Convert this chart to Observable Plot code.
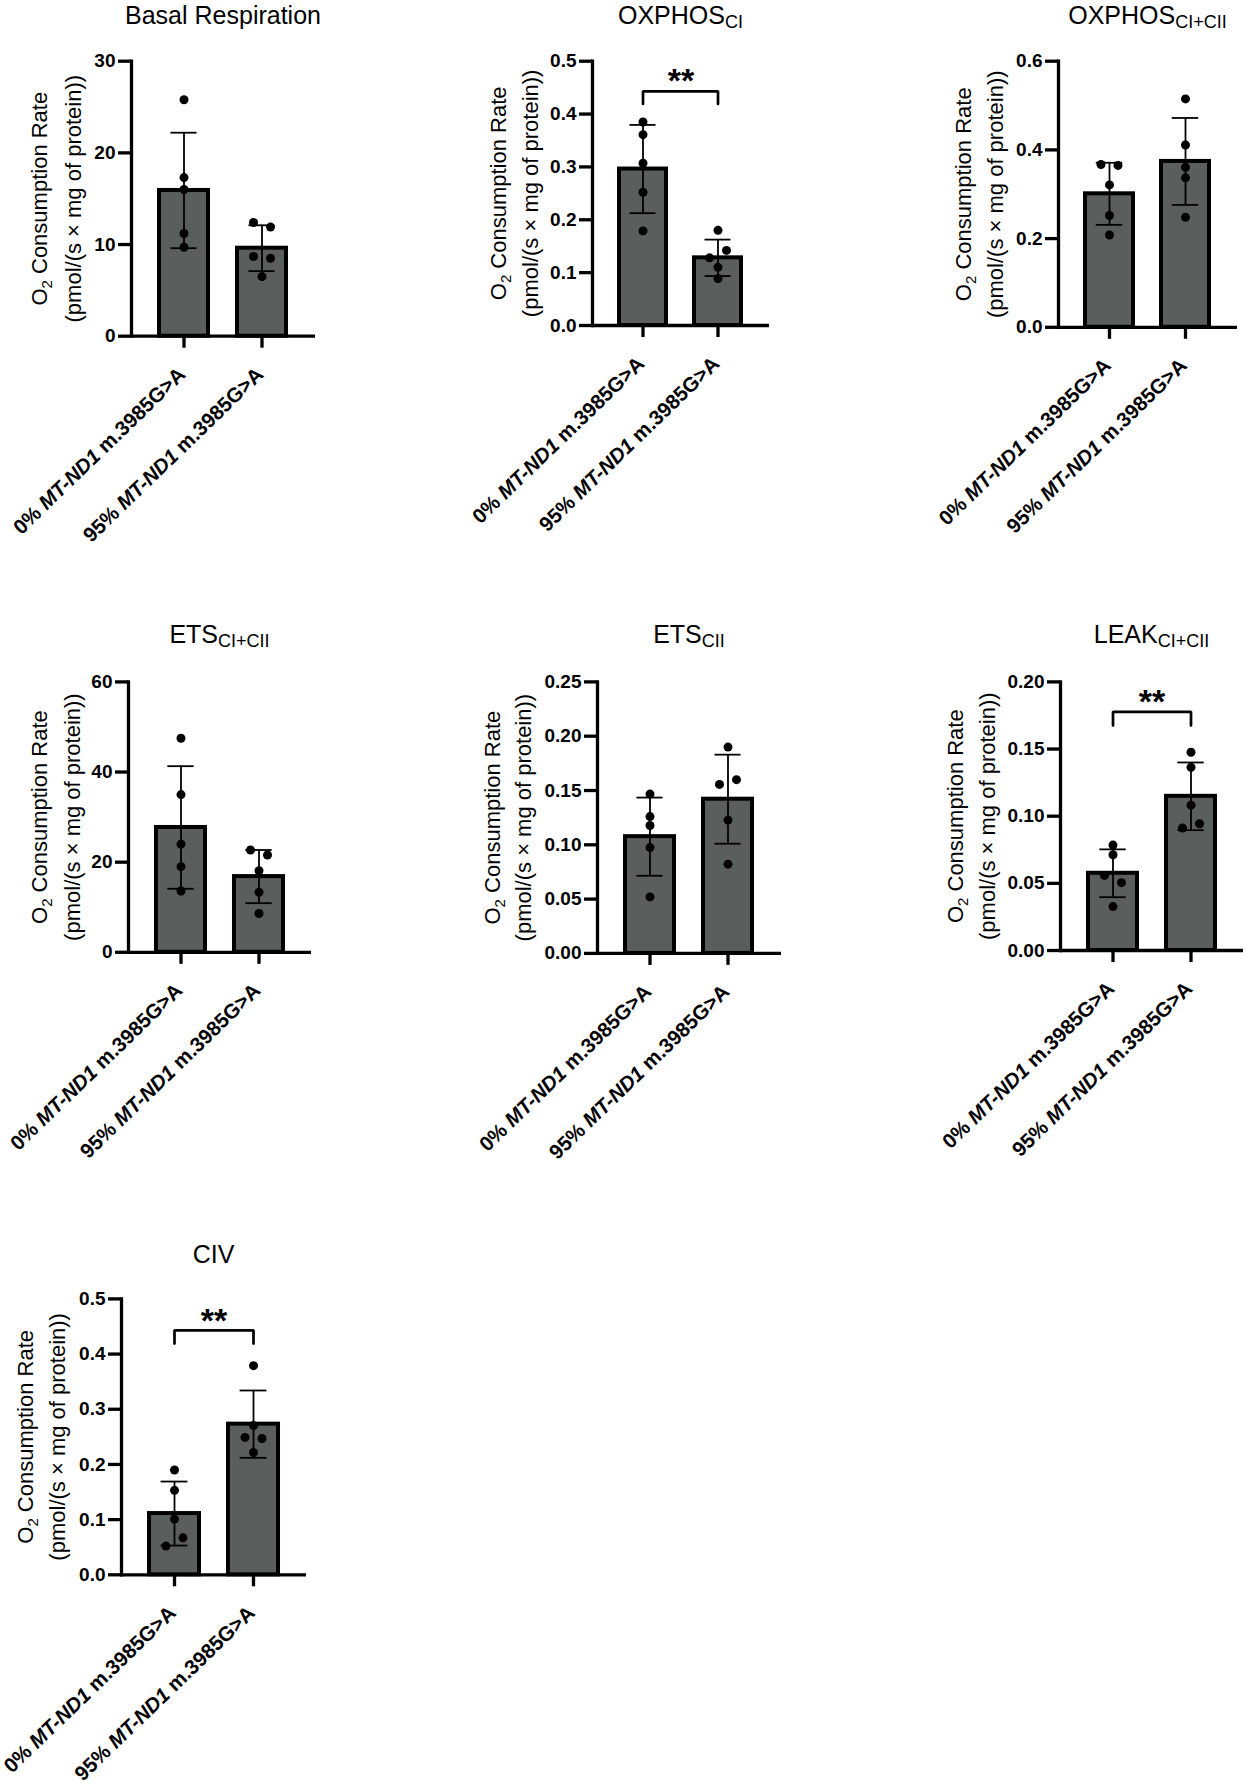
<!DOCTYPE html>
<html>
<head>
<meta charset="utf-8">
<script src="https://cdn.jsdelivr.net/npm/d3@7"></script>
<script src="https://cdn.jsdelivr.net/npm/@observablehq/plot@0.6"></script>
<style>
  body { margin: 0; background: #fff; }
  #root { position: relative; width: 1248px; height: 1784px; overflow: hidden;
          font-family: "Liberation Sans", Arial, Helvetica, sans-serif; }
  .title { position: absolute; width: 400px; text-align: center; font-size: 25px; line-height: 25px;
           color: #000; white-space: nowrap; z-index: 2; }
  .title .sub { font-size: 0.72em; position: relative; top: 0.22em; }
</style>
</head>
<body>
<div id="root"></div>
<script>
// ---------------- DATA ----------------
const groups = ["0% MT-ND1 m.3985G>A", "95% MT-ND1 m.3985G>A"];

const titleMain = ["Basal Respiration", "OXPHOS", "OXPHOS", "ETS", "ETS", "LEAK", "CIV"];
const titleSub  = ["", "CI", "CI+CII", "CI+CII", "CII", "CI+CII", ""];
const yLabelLine1 = "O2 Consumption Rate";
const yLabelLine2 = "(pmol/(s \u00d7 mg of protein))";
const sigText = "**";

// Basal Respiration
const basalTicks = [0, 10, 20, 30];
const basalTickLabels = ["0", "10", "20", "30"];
const basalMean = [15.9, 9.6];
const basalSD = [6.3, 2.5];
const basal0 = [25.8, 17.3, 16.0, 11.2, 9.7];
const basal1 = [12.4, 11.9, 8.7, 8.5, 6.5];

// OXPHOS CI
const oxCITicks = [0, 0.1, 0.2, 0.3, 0.4, 0.5];
const oxCITickLabels = ["0.0", "0.1", "0.2", "0.3", "0.4", "0.5"];
const oxCIMean = [0.296, 0.128];
const oxCISD = [0.0835, 0.0345];
const oxCI0 = [0.385, 0.361, 0.307, 0.252, 0.179];
const oxCI1 = [0.180, 0.128, 0.142, 0.110, 0.089];
const oxCISig = [0.443, 0.419, 0.478]; // bracket, leg end, asterisks

// OXPHOS CI+CII
const oxCIIITicks = [0, 0.2, 0.4, 0.6];
const oxCIIITickLabels = ["0.0", "0.2", "0.4", "0.6"];
const oxCIIIMean = [0.301, 0.374];
const oxCIIISD = [0.070, 0.098];
const oxCIII0 = [0.367, 0.365, 0.321, 0.252, 0.208];
const oxCIII1 = [0.515, 0.411, 0.361, 0.337, 0.248];

// ETS CI+CII
const etsCIIITicks = [0, 20, 40, 60];
const etsCIIITickLabels = ["0", "20", "40", "60"];
const etsCIIIMean = [27.7, 16.8];
const etsCIIISD = [13.6, 5.9];
const etsCIII0 = [47.5, 35.0, 24.0, 19.0, 13.6];
const etsCIII1 = [22.7, 21.6, 18.1, 13.3, 8.6];

// ETS CII
const etsCIITicks = [0, 0.05, 0.10, 0.15, 0.20, 0.25];
const etsCIITickLabels = ["0.00", "0.05", "0.10", "0.15", "0.20", "0.25"];
const etsCIIMean = [0.1075, 0.142];
const etsCIISD = [0.036, 0.041];
const etsCII0 = [0.1467, 0.126, 0.1178, 0.0974, 0.052];
const etsCII1 = [0.190, 0.1556, 0.160, 0.1227, 0.0822];

// LEAK CI+CII
const leakTicks = [0, 0.05, 0.10, 0.15, 0.20];
const leakTickLabels = ["0.00", "0.05", "0.10", "0.15", "0.20"];
const leakMean = [0.0575, 0.1148];
const leakSD = [0.0178, 0.0252];
const leak0 = [0.0785, 0.0713, 0.0559, 0.0505, 0.0327];
const leak1 = [0.1476, 0.1364, 0.1082, 0.0912, 0.0944];
const leakSig = [0.1777, 0.1676, 0.191];

// CIV
const civTicks = [0, 0.1, 0.2, 0.3, 0.4, 0.5];
const civTickLabels = ["0.0", "0.1", "0.2", "0.3", "0.4", "0.5"];
const civMean = [0.111, 0.273];
const civSD = [0.058, 0.061];
const civ0 = [0.190, 0.153, 0.101, 0.052, 0.067];
const civ1 = [0.379, 0.2705, 0.249, 0.247, 0.2216];
const civSig = [0.443, 0.419, 0.476];

const panelData = [
  {ticks: basalTicks, labels: basalTickLabels, mean: basalMean, sd: basalSD, points: [basal0, basal1], sig: null},
  {ticks: oxCITicks, labels: oxCITickLabels, mean: oxCIMean, sd: oxCISD, points: [oxCI0, oxCI1], sig: oxCISig},
  {ticks: oxCIIITicks, labels: oxCIIITickLabels, mean: oxCIIIMean, sd: oxCIIISD, points: [oxCIII0, oxCIII1], sig: null},
  {ticks: etsCIIITicks, labels: etsCIIITickLabels, mean: etsCIIIMean, sd: etsCIIISD, points: [etsCIII0, etsCIII1], sig: null},
  {ticks: etsCIITicks, labels: etsCIITickLabels, mean: etsCIIMean, sd: etsCIISD, points: [etsCII0, etsCII1], sig: null},
  {ticks: leakTicks, labels: leakTickLabels, mean: leakMean, sd: leakSD, points: [leak0, leak1], sig: leakSig},
  {ticks: civTicks, labels: civTickLabels, mean: civMean, sd: civSD, points: [civ0, civ1], sig: civSig}
];

// ---------------- LAYOUT / STYLE ----------------
const layout = [
  {left: 0,   top: 48,   width: 420, height: 480, axisX: 131,  xEnd: 315,  topY: 60.7,   zeroY: 335.7, yl1: 39,  yl2: 73,  titleY: 24},
  {left: 420, top: 48,   width: 420, height: 480, axisX: 592,  xEnd: 769,  topY: 60.7,   zeroY: 325,   yl1: 498, yl2: 530, titleY: 24},
  {left: 840, top: 48,   width: 408, height: 480, axisX: 1058, xEnd: 1237, topY: 60.7,   zeroY: 326.8, yl1: 963, yl2: 995, titleY: 24},
  {left: 0,   top: 648,  width: 420, height: 520, axisX: 128,  xEnd: 311,  topY: 681.4,  zeroY: 951.8, yl1: 39,  yl2: 72,  titleY: 643.5},
  {left: 420, top: 648,  width: 420, height: 520, axisX: 597,  xEnd: 781,  topY: 681.4,  zeroY: 952.9, yl1: 492, yl2: 523, titleY: 643.5},
  {left: 840, top: 648,  width: 408, height: 520, axisX: 1060, xEnd: 1243, topY: 681.4,  zeroY: 950,   yl1: 955, yl2: 987, titleY: 643.5},
  {left: 0,   top: 1268, width: 420, height: 516, axisX: 121,  xEnd: 306,  topY: 1298.4, zeroY: 1574.3, yl1: 25, yl2: 57,  titleY: 1263}
];

const BAR_FILL = "#5a5e5d";
const PAD_INNER = 0.367, PAD_OUTER = 0.35;
const CAP_WIDTH = 27;
const DOT_R = 4.5;
const JITTER_SPACING = 17;
const OVERLAP_PX = 8.6;
const AXIS_W = 3.3;
const STAR_SIZE = 34;
const FONT = "'Liberation Sans', Arial, Helvetica, sans-serif";

const root = document.getElementById("root");

function jitter(values, group, pxPerUnit) {
  const vals = values.map((v, k) => ({group, value: v, order: k}));
  const sorted = vals.slice().sort((a, b) => b.value - a.value);
  const clusters = [];
  let cur = [sorted[0]];
  for (let j = 1; j < sorted.length; j++) {
    if ((cur[cur.length - 1].value - sorted[j].value) * pxPerUnit < OVERLAP_PX) cur.push(sorted[j]);
    else { clusters.push(cur); cur = [sorted[j]]; }
  }
  clusters.push(cur);
  const out = [];
  clusters.forEach(c => {
    c.sort((a, b) => a.order - b.order);
    c.forEach((p, k) => { p.slot = k - (c.length - 1) / 2; out.push(p); });
  });
  return out;
}

function tspan(text, attrs) {
  const el = document.createElementNS("http://www.w3.org/2000/svg", "tspan");
  el.textContent = text;
  Object.entries(attrs || {}).forEach(([k, v]) => el.setAttribute(k, v));
  return el;
}

function decorate(svg) {
  svg.querySelectorAll("text").forEach(t => {
    const s = t.textContent;
    if (s.indexOf("MT-ND1") >= 0) {
      const [pre, post] = s.split("MT-ND1");
      t.textContent = "";
      t.setAttribute("style", "white-space:pre");
      t.append(tspan(pre), tspan("MT-ND1", {"font-style": "italic"}), tspan(post));
    } else if (s === yLabelLine1) {
      t.textContent = "";
      t.setAttribute("style", "white-space:pre");
      t.append(tspan("O"), tspan("2", {"font-size": "15", dy: "5"}), tspan(" Consumption Rate", {dy: "-5"}));
    }
  });
}

panelData.forEach((D, k) => {
  const L = layout[k];
  const yMax = D.ticks[D.ticks.length - 1];
  const W = L.width, H = L.height;
  const marginLeft = L.axisX - L.left, marginRight = L.left + W - L.xEnd;
  const marginTop = L.topY - L.top, marginBottom = L.top + H - L.zeroY;
  const pxPerUnit = (L.zeroY - L.topY) / yMax;
  const frameW = L.xEnd - L.axisX;
  const step = frameW / (groups.length - PAD_INNER + 2 * PAD_OUTER);
  const bandwidth = step * (1 - PAD_INNER);
  const capInset = (bandwidth - CAP_WIDTH) / 2;

  const bars = groups.map((g, i) => ({group: g, mean: D.mean[i], lo: D.mean[i] - D.sd[i], hi: D.mean[i] + D.sd[i]}));
  const pts = groups.flatMap((g, i) => jitter(D.points[i], g, pxPerUnit));
  const slots = [...new Set(pts.map(p => p.slot))];

  const marks = [
    Plot.barY(bars, {x: "group", y: "mean", fill: BAR_FILL, stroke: "black", strokeWidth: 4}),
    Plot.ruleX(bars, {x: "group", y1: "lo", y2: "hi", stroke: "black", strokeWidth: 1.8}),
    Plot.tickY(bars, {x: "group", y: "hi", stroke: "black", strokeWidth: 1.8, inset: capInset}),
    Plot.tickY(bars, {x: "group", y: "lo", stroke: "black", strokeWidth: 1.8, inset: capInset}),
    ...slots.map(s => Plot.dot(pts.filter(p => p.slot === s), {x: "group", y: "value", r: DOT_R, fill: "black", dx: s * JITTER_SPACING})),
    Plot.ruleY([0], {stroke: "black", strokeWidth: AXIS_W}),
    Plot.frame({anchor: "left", stroke: "black", strokeWidth: AXIS_W}),
    Plot.axisY({ticks: D.ticks, tickFormat: v => D.labels[D.ticks.indexOf(v)], tickSize: 13, tickPadding: 3,
                fontSize: 19, fontWeight: "bold", strokeWidth: AXIS_W, label: null}),
    Plot.axisX({tickSize: 12, strokeWidth: AXIS_W, tickFormat: () => "", label: null}),
    Plot.text(groups, {x: d => d, y: 0, text: d => d, rotate: -44, textAnchor: "end", lineAnchor: "middle",
                       dx: -2, dy: 35, fontSize: 20.5, fontWeight: "bold"}),
    Plot.text([yLabelLine1], {frameAnchor: "left", rotate: -90, dx: L.yl1 - L.axisX, fontSize: 22,
                              textAnchor: "middle", lineAnchor: "middle"}),
    Plot.text([yLabelLine2], {frameAnchor: "left", rotate: -90, dx: L.yl2 - L.axisX, fontSize: 22,
                              textAnchor: "middle", lineAnchor: "middle"})
  ];

  if (D.sig) {
    const bracket = [
      {group: groups[0], y: D.sig[1]}, {group: groups[0], y: D.sig[0]},
      {group: groups[1], y: D.sig[0]}, {group: groups[1], y: D.sig[1]}
    ];
    marks.push(Plot.line(bracket, {x: "group", y: "y", stroke: "black", strokeWidth: 2.7, strokeLinejoin: "miter"}));
    marks.push(Plot.text([D.sig], {y: d => d[2], text: () => sigText, fontSize: STAR_SIZE, fontWeight: "bold",
                                   lineAnchor: "middle", dy: STAR_SIZE * 0.25, letterSpacing: 3}));
  }

  const svg = Plot.plot({
    width: W, height: H, marginLeft, marginRight, marginTop, marginBottom,
    style: {fontFamily: FONT, background: "transparent", color: "black", overflow: "visible"},
    x: {type: "band", domain: groups, paddingInner: PAD_INNER, paddingOuter: PAD_OUTER},
    y: {domain: [0, yMax]},
    marks
  });
  decorate(svg);
  svg.style.position = "absolute";
  svg.style.left = L.left + "px";
  svg.style.top = L.top + "px";
  svg.style.maxWidth = "none";
  root.appendChild(svg);

  const title = document.createElement("div");
  title.className = "title";
  const cx = (L.axisX + L.xEnd) / 2;
  title.style.left = (cx - 200) + "px";
  title.style.top = (L.titleY - 21.2) + "px";
  title.appendChild(document.createTextNode(titleMain[k]));
  if (titleSub[k]) {
    const sub = document.createElement("span");
    sub.className = "sub";
    sub.textContent = titleSub[k];
    title.appendChild(sub);
  }
  root.appendChild(title);
});
</script>
</body>
</html>
